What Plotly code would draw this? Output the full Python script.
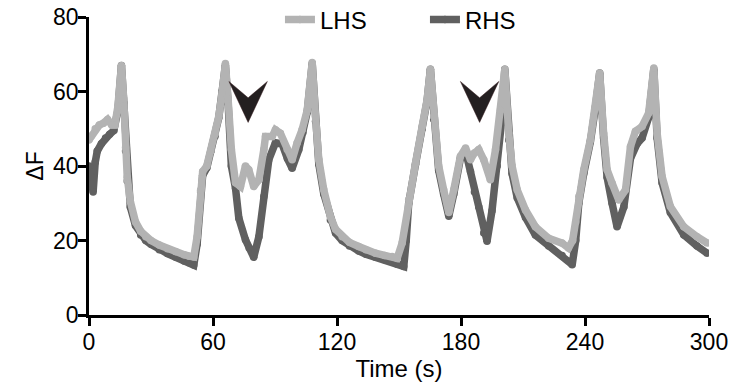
import plotly.graph_objects as go

# ---- data ----
lhs_t = [0, 1, 3, 5, 7, 9, 11, 12.5, 14, 15.7, 16.8, 17.7, 18.5, 20, 22.5, 25, 27.5, 30, 34, 38, 42, 46,
         48.5, 50.7, 52.3, 54, 55, 57, 59, 61, 62.8, 64.4, 66, 67.3, 68.9, 70.9, 73.3, 75.7, 77.3, 79.7,
         82.2, 84.6, 85.4, 88.6, 90.2, 92.6, 95.9, 98.3, 100.7, 103.1, 105.6, 108, 109.6, 111.2, 113.6,
         116.8, 119.3, 122.5, 126, 130.5, 134, 138.6, 143, 146.7, 149.1, 151.5, 154.7, 158, 161.2, 163.6,
         165.2, 166.8, 169.2, 171.6, 174.1, 176.5, 179.7, 182.2, 184.6, 186.5, 188.6, 191, 194.2, 196.7,
         199.1, 201.2, 203.1, 204.7, 207.2, 211.2, 216, 222.4, 228.9, 232, 234, 235.5, 237, 239.4, 242.6,
         245, 247.1, 249, 250.7, 253.1, 256.3, 259.6, 262, 264.4, 267.6, 270.8, 273.3, 274.9, 277.3,
         281.3, 287.8, 294.2, 299.1]
lhs_v = [47, 48, 50, 51, 51.5, 52.5, 51, 51, 56, 67, 58, 45, 37, 30.5, 25, 22.5, 21, 20, 18.8, 17.8, 17, 16.2,
         15.8, 15.6, 21, 33.5, 38.5, 40, 44, 48.5, 53.3, 59.6, 67.5, 58, 44.4, 35.5, 34.5, 40, 39, 34.5,
         36.3, 44.4, 47.9, 47.9, 49.7, 48.8, 44.4, 41.7, 46.2, 49.7, 55, 67.8, 53.3, 41.7, 33.6,
         26.4, 23, 21, 19.5, 18.4, 17.5, 16.6, 16, 15.7, 15.2, 19.3, 31, 40.8, 50.6, 57.8,
         66, 53.3, 40, 33.6, 27.5, 33.6, 42.6, 44.8, 41.7, 43.5, 44.4, 41.7, 36.3, 44.4,
         55, 66, 48.8, 40, 33.6, 28.2, 23.7, 20.6, 19.3, 18, 20, 25, 31.8, 39, 47,
         56, 65, 48.8, 39, 35.4, 30.9, 33.6, 45.2, 49.3, 50.6, 54.2, 66.3, 48.8, 37.2,
         29.1, 23.7, 21, 19.3]

rhs_t = [0, 1, 2, 3, 4, 6, 8, 10, 12, 14, 15.7, 16.8, 17.7, 18.5, 20, 22.5, 25, 27.5, 30, 34, 38, 42, 46,
         48.5, 50.7, 52.3, 54, 55, 57, 59, 61, 62.8, 64.4, 66, 67.3, 68.9, 70.9, 72.5, 75.7, 77.5, 79.7,
         82.2, 84.6, 87, 90.2, 93.4, 96, 98.3, 101.5, 103.5, 105.6, 108, 109.6, 111.2, 113.6, 116.8,
         119.3, 122.5, 126, 130.5, 134, 138.6, 143, 146.7, 149.1, 152.3, 153.5, 154.7, 158, 161.2, 163.6,
         165.2, 166.8, 169.2, 171.6, 174.1, 176.5, 179.7, 182.2, 184.6, 186.5, 188.6, 191, 192.6, 195,
         197.5, 199.9, 201.2, 203.1, 204.7, 207.2, 211.2, 216, 222.4, 228.9, 233.8, 235.5, 237, 239.4,
         242.6, 245, 247.1, 249, 250.7, 253.1, 255.5, 258.8, 262, 265.2, 267.6, 270.8, 273.3, 274.9,
         277.3, 281.3, 287.8, 294.2, 299.1]
rhs_v = [40, 37, 33, 41, 44, 46, 47.5, 48.5, 49.5, 55, 67, 57, 44, 36, 29, 24, 21.5, 20, 19, 17.5, 16.5, 15.5, 14.5,
         14, 13.4, 19, 33, 37.5, 39.5, 44, 48, 53, 60, 67, 57, 40, 34, 26, 20.2, 18, 15.5,
         21, 31.8, 41.7, 46.2, 46, 42, 39.4, 44.4, 49, 54.5, 67.5, 52, 40.5, 32.5, 25.5,
         22, 20, 18.5, 17.2, 16.3, 15.5, 14.8, 14.2, 13.6, 13, 20, 30, 40.5, 50, 57.5,
         66, 52.5, 38.8, 32.5, 26.5, 32.5, 42, 44, 38.5, 33, 29, 22, 19.8, 28,
         40, 53.3, 66, 47, 38, 31.5, 26.2, 21.5, 18.5, 16, 13.5, 20, 30, 38,
         46.5, 55.5, 65, 47.5, 37, 30, 23.7, 29, 42, 46, 47.5, 53, 66, 47.5,
         35.5, 27.5, 21.5, 18.5, 16.6]

series_names = ["LHS", "RHS"]
x_ticks = [0, 60, 120, 180, 240, 300]
y_ticks = [0, 20, 40, 60, 80]
arrow_t = [77, 189]      # time of arrow markers
arrow_top = [62.7, 62.7]  # top of arrow markers (ΔF)

# ---- styling ----
FONT = "Arial, Liberation Sans, Helvetica, sans-serif"
C_LHS = "#b3b3b3"
C_RHS = "#606060"
ARROW_HALF_W = 9.3
ARROW_NOTCH = 4.4
ARROW_LEN = 11.0

fig = go.Figure()
fig.add_trace(go.Scatter(x=rhs_t, y=rhs_v, name=series_names[1], mode="lines+markers",
                         line=dict(color=C_RHS, width=7.5), marker=dict(color=C_RHS, size=7.5),
                         legendrank=2))
fig.add_trace(go.Scatter(x=lhs_t, y=lhs_v, name=series_names[0], mode="lines+markers",
                         line=dict(color=C_LHS, width=7.5), marker=dict(color=C_LHS, size=7.5),
                         legendrank=1))

for t, top in zip(arrow_t, arrow_top):
    path = (f"M {t - ARROW_HALF_W} {top} L {t} {top - ARROW_NOTCH} L {t + ARROW_HALF_W} {top} "
            f"L {t} {top - ARROW_LEN} Z")
    fig.add_shape(type="path", path=path, xref="x", yref="y",
                  fillcolor="#231f20", line=dict(color="#3a1f20", width=0.5), layer="above")

axis_common = dict(showgrid=False, zeroline=False, showline=True, linecolor="black", linewidth=2.5,
                   ticks="outside", ticklen=8, tickwidth=2.5, tickcolor="black", automargin=False,
                   ticklabeloverflow="allow",
                   tickfont=dict(family=FONT, size=23, color="black"))

fig.update_layout(
    width=732, height=389,
    margin=dict(l=89, r=23, t=17, b=74, autoexpand=False),
    paper_bgcolor="white", plot_bgcolor="white",
    font=dict(family=FONT, size=23, color="black"),
    xaxis=dict(range=[0, 300], tickvals=x_ticks, ticktext=[str(v) for v in x_ticks],
               ticklabelstandoff=-3,
               title=dict(text="Time (s)", font=dict(family=FONT, size=24), standoff=6),
               **axis_common),
    yaxis=dict(range=[0, 80], tickvals=y_ticks, ticktext=[str(v) for v in y_ticks],
               ticklabelstandoff=-5,
               title=dict(text="ΔF", font=dict(family=FONT, size=23), standoff=4),
               **axis_common),
    legend=dict(orientation="h", x=0.308, y=0.99, xanchor="left", yanchor="middle",
                bgcolor="rgba(0,0,0,0)", font=dict(family=FONT, size=24, color="black"),
                entrywidth=100, entrywidthmode="pixels", itemwidth=30),
    showlegend=True,
)

# the page's default 8px body margin would shift and crop the 732x389 figure
fig.write_html("out.html", config={"displayModeBar": False},
               post_script="document.body.style.margin='0';")
